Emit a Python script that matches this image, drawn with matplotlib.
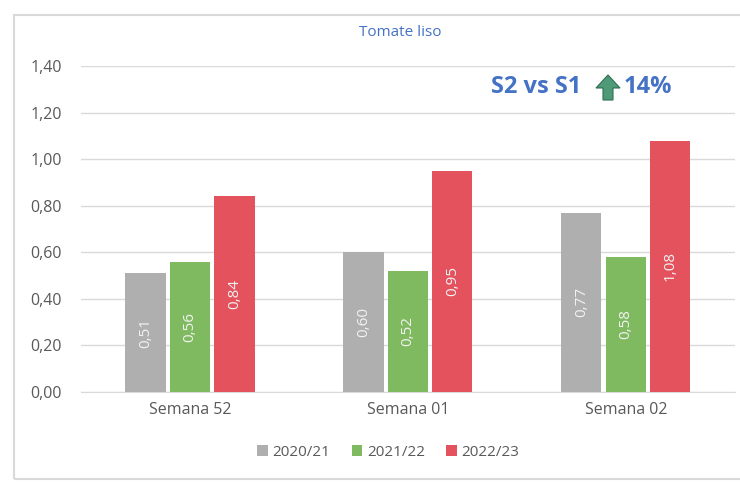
"""
Tomate liso: weekly price by season, grouped bar chart.
"""

import numpy as np
import matplotlib.pyplot as plt
from matplotlib.patches import Rectangle, Polygon

weeks = ["Semana 52", "Semana 01", "Semana 02"]
seasons = ["2020/21", "2021/22", "2022/23"]
v_2020 = [0.51, 0.60, 0.77]
v_2021 = [0.56, 0.52, 0.58]
v_2022 = [0.84, 0.95, 1.08]
yticks = [0.0, 0.2, 0.4, 0.6, 0.8, 1.0, 1.2, 1.4]


def main():
    plt.rcParams["font.family"] = ["Open Sans", "DejaVu Sans"]
    text_col = "#595959"
    blue = "#4472C4"
    colors = ["#AFAFAF", "#80BA60", "#E4525E"]
    series = [v_2020, v_2021, v_2022]

    fig = plt.figure(figsize=(7.4, 4.82), dpi=100)
    ax = fig.add_axes([0.1095, 0.1867, 0.8835, 0.6763])

    # outer chart frame
    fig.patches.append(Rectangle((14 / 740, 3 / 482), 740, 464 / 482,
                                 transform=fig.transFigure, fill=False,
                                 edgecolor="#D9D9D9", lw=1.5))

    x = np.arange(len(weeks))
    width = 0.184
    step = 0.204
    for i, (vals, col, lab) in enumerate(zip(series, colors, seasons)):
        pos = x + (i - 1) * step
        bars = ax.bar(pos, vals, width, color=col, label=lab, zorder=3)
        for b, v in zip(bars, vals):
            ax.text(b.get_x() + b.get_width() / 2, v / 2,
                    f"{v:.2f}".replace(".", ","), rotation=90,
                    ha="center", va="center", color="#F2F2F2",
                    fontsize=11, zorder=4)

    ax.set_xlim(-0.5, 2.5)
    ax.set_ylim(0, 1.4)
    ax.set_yticks(yticks)
    ax.set_yticklabels([f"{t:.2f}".replace(".", ",") for t in yticks])
    ax.set_xticks(x)
    ax.set_xticklabels(weeks)
    ax.tick_params(axis="both", length=0, colors=text_col, labelsize=11.5)
    ax.tick_params(axis="x", pad=7)
    ax.tick_params(axis="y", pad=14)
    ax.grid(axis="y", color="#D9D9D9", lw=1, zorder=0)
    for s in ["top", "right", "left"]:
        ax.spines[s].set_visible(False)
    ax.spines["bottom"].set_color("#D9D9D9")

    fig.text(400 / 740, 1 - 32 / 482, "Tomate liso", ha="center",
             va="center", color=blue, fontsize=11)

    # S2 vs S1 highlight
    fig.text(491 / 740, 1 - 87 / 482, "S2 vs S1", ha="left", va="center",
             color=blue, fontsize=17, fontweight="bold")
    fig.text(624 / 740, 1 - 87 / 482, "14%", ha="left", va="center",
             color=blue, fontsize=17, fontweight="bold")
    arrow = [(608, 75), (620, 88), (613, 88), (613, 100),
             (603, 100), (603, 88), (596, 88)]
    fig.patches.append(Polygon([(px / 740, 1 - py / 482) for px, py in arrow],
                               closed=True, transform=fig.transFigure,
                               facecolor="#4E9A78", edgecolor="#2F6E52",
                               lw=0.8))

    ax.legend(loc="upper center", bbox_to_anchor=(0.47, -0.12), ncol=3,
              frameon=False, fontsize=11, labelcolor=text_col,
              handlelength=0.7, handleheight=0.7, handletextpad=0.3,
              columnspacing=1.4)

    fig.savefig("out.png", dpi=100)


if __name__ == "__main__":
    main()
